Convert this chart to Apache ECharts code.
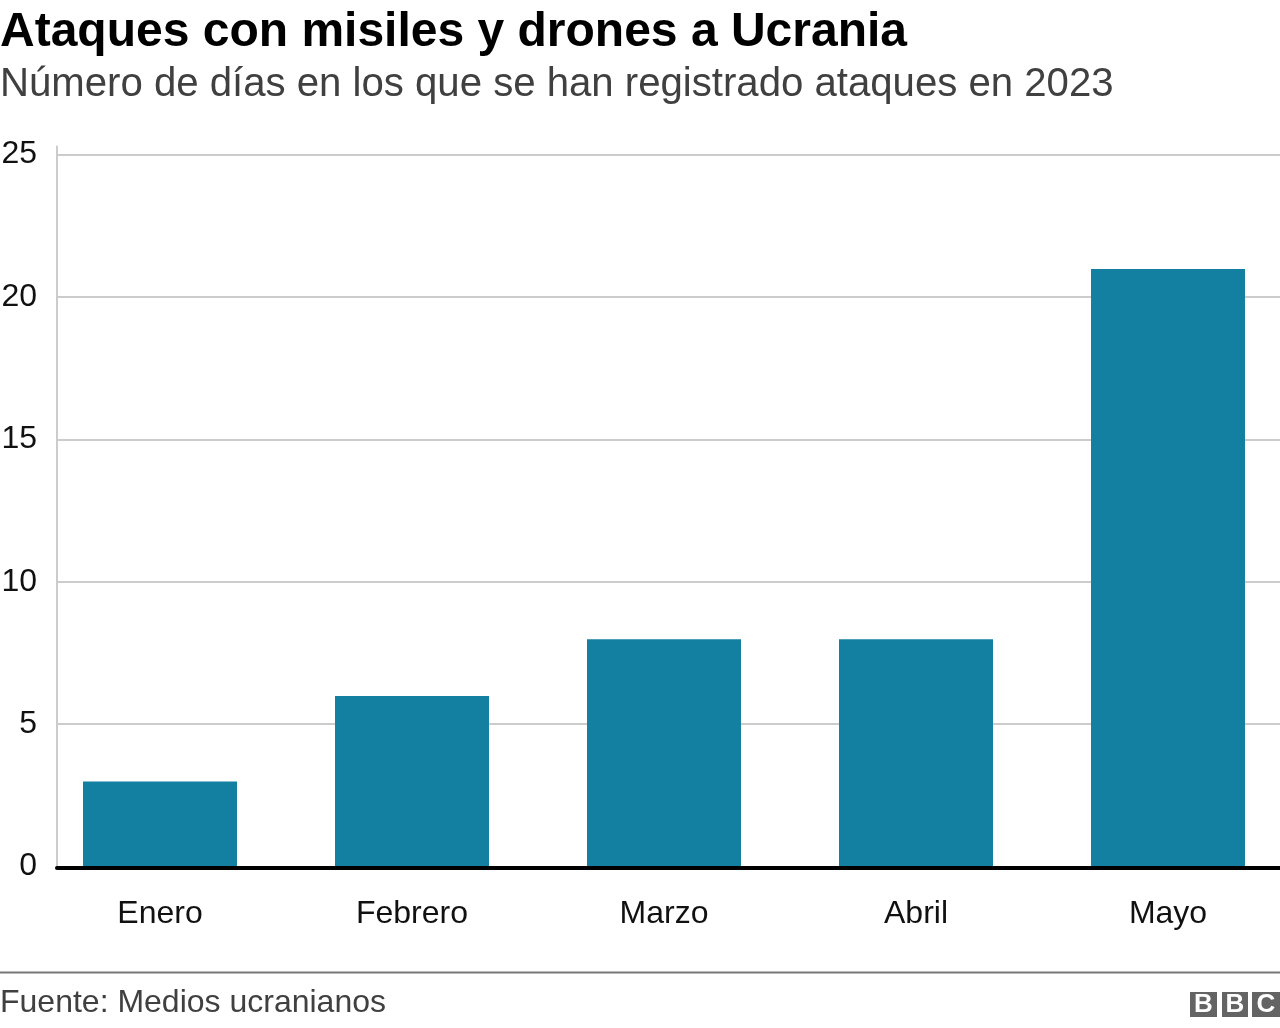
<!DOCTYPE html>
<html>
<head>
<meta charset="utf-8">
<title>Ataques con misiles y drones a Ucrania</title>
<script src="https://cdn.jsdelivr.net/npm/echarts@6/dist/echarts.min.js"></script>
<style>
html, body { margin: 0; padding: 0; background: #fff; }
#chart { width: 1280px; height: 1028px; }
</style>
</head>
<body>
<div id="chart"></div>
<script>
var categories = ['Enero', 'Febrero', 'Marzo', 'Abril', 'Mayo'];
var attackDays = [3, 6, 8, 8, 21];
var yInterval = 5;
var yMax = 25.28; // axis line runs a little past the 25 gridline

var font = '"Liberation Sans", Arial, sans-serif';

function bbcBox(x, w, letter) {
	return [
		{ type: 'rect', shape: { x: x, y: 992, width: w, height: 25 }, style: { fill: '#646464' } },
		{ type: 'text', style: { x: x + w / 2, y: 1005, text: letter, fill: '#fff', font: 'bold 26px ' + font, align: 'center', verticalAlign: 'middle' } }
	];
}

var option = {
	animation: false,
	backgroundColor: '#fff',
	title: [
		{ text: 'Ataques con misiles y drones a Ucrania', left: 0, top: 9, padding: 0,
			textStyle: { fontFamily: font, fontWeight: 'bold', fontSize: 48, color: '#000' } },
		{ text: 'Número de días en los que se han registrado ataques en 2023', left: 0, top: 65, padding: 0,
			textStyle: { fontFamily: font, fontWeight: 'normal', fontSize: 40.15, color: '#404040' } },
		{ text: 'Fuente: Medios ucranianos', left: 0, top: 987, padding: 0,
			textStyle: { fontFamily: font, fontWeight: 'normal', fontSize: 32, color: '#404040' } }
	],
	// first grid: gridlines and axes; second grid: the bars, which are spaced on a wider band
	grid: [
		{ left: 57, top: 146.6, width: 1223, height: 720, outerBoundsMode: 'none' },
		{ left: 34, top: 147, width: 1260, height: 720, outerBoundsMode: 'none' }
	],
	xAxis: [
		{ type: 'category', gridIndex: 0, data: categories, z: 5, offset: 1.4,
			axisLine: { onZero: false, lineStyle: { color: '#000', width: 4 } },
			axisTick: { show: false }, axisLabel: { show: false } },
		{ type: 'category', gridIndex: 1, data: categories,
			axisLine: { show: false }, axisTick: { show: false },
			axisLabel: { fontFamily: font, fontSize: 32, color: '#111', margin: 31 } }
	],
	yAxis: [
		{ type: 'value', gridIndex: 0, min: 0, max: yMax, interval: yInterval,
			axisLine: { show: true, lineStyle: { color: '#ccc', width: 2 } },
			axisTick: { show: false },
			axisLabel: { fontFamily: font, fontSize: 32, color: '#111', margin: 20, showMaxLabel: false },
			splitLine: { show: true, showMaxLine: false, showMinLine: false, lineStyle: { color: '#ccc', width: 2 } } },
		{ type: 'value', gridIndex: 1, min: 0, max: yMax, interval: yInterval, show: false }
	],
	series: [
		{ type: 'bar', name: 'Días con ataques', xAxisIndex: 1, yAxisIndex: 1, data: attackDays,
			barWidth: 154, itemStyle: { color: '#1380A1' }, silent: true }
	],
	graphic: [
		{ type: 'group', silent: true, children: [
			{ type: 'rect', shape: { x: 0, y: 971.5, width: 1280, height: 2 }, style: { fill: '#777' } }
		].concat(bbcBox(1190, 27, 'B'), bbcBox(1222, 26, 'B'), bbcBox(1252, 28, 'C')) }
	]
};

var myChart = echarts.init(document.getElementById('chart'));
myChart.setOption(option);
</script>
</body>
</html>
